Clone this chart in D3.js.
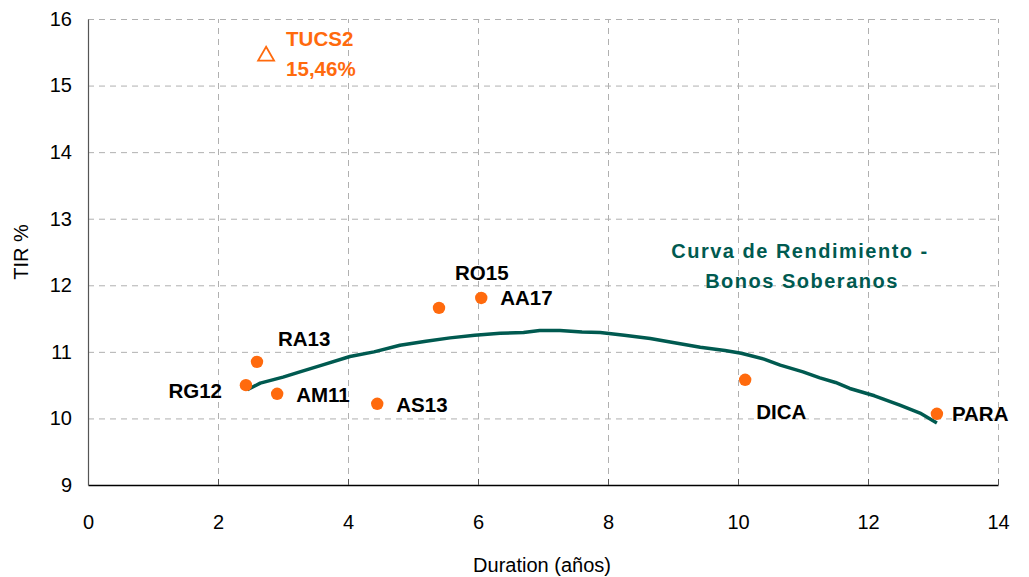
<!DOCTYPE html>
<html>
<head>
<meta charset="utf-8">
<script src="https://cdn.jsdelivr.net/npm/d3@7"></script>
<style>
  html, body { margin: 0; padding: 0; background: #fff; }
  svg { display: block; font-family: "Liberation Sans", Arial, Helvetica, sans-serif; }
  .grid line { stroke: #b0b0b0; stroke-dasharray: 6,5; stroke-width: 1; }
  .grid path { display: none; }
  .tick text { font-size: 20px; fill: #000; }
  .lbl { font-size: 20.5px; font-weight: bold; fill: #000; }
</style>
</head>
<body>
<div id="chart"></div>
<script>
// bonos: duración (años) y TIR %
const bonds     = ["RG12", "RA13", "AM11", "AS13", "RO15", "AA17", "DICA", "PARA"];
const durations = [2.43, 2.60, 2.91, 4.45, 5.40, 6.05, 10.11, 13.06];
const yields    = [10.50, 10.85, 10.37, 10.22, 11.66, 11.81, 10.58, 10.07];

// bono destacado (triángulo)
const outlierName = "TUCS2";
const outlierDur  = 2.74;
const outlierTir  = 15.46;

// curva de rendimiento ajustada
const curveDur = [2.45, 2.65, 3.00, 3.26, 3.60, 4.03, 4.40, 4.80, 5.20, 5.57, 5.95, 6.34, 6.70, 6.95, 7.26, 7.60, 7.88, 8.25, 8.65, 9.00, 9.42, 9.80, 10.05, 10.40, 10.65, 11.00, 11.26, 11.50, 11.72, 12.10, 12.49, 12.80, 13.06];
const curveTir = [10.43, 10.53, 10.62, 10.70, 10.80, 10.93, 11.00, 11.10, 11.16, 11.21, 11.25, 11.28, 11.29, 11.32, 11.32, 11.30, 11.29, 11.25, 11.20, 11.14, 11.07, 11.02, 10.98, 10.89, 10.80, 10.70, 10.61, 10.54, 10.45, 10.34, 10.20, 10.08, 9.93];

const xTicks = [0, 2, 4, 6, 8, 10, 12, 14];
const yTicks = [9, 10, 11, 12, 13, 14, 15, 16];

const W = 1029, H = 577;
const m = { t: 19, r: 31, b: 92, l: 88 };
const svg = d3.select("#chart").append("svg").attr("width", W).attr("height", H);

const x = d3.scaleLinear().domain([0, 14]).range([m.l, W - m.r]);
const y = d3.scaleLinear().domain([9, 16]).range([H - m.b, m.t]);

// grid punteada
svg.append("g").attr("class", "grid")
  .attr("transform", `translate(0,${H - m.b})`)
  .call(d3.axisBottom(x).tickValues(xTicks.slice(1)).tickSize(-(H - m.t - m.b)).tickFormat(""));
svg.append("g").attr("class", "grid")
  .attr("transform", `translate(${m.l},0)`)
  .call(d3.axisLeft(y).tickValues(yTicks.slice(1)).tickSize(-(W - m.l - m.r)).tickFormat(""));

// ejes
const ax = svg.append("g").attr("transform", `translate(0,${H - m.b})`)
  .call(d3.axisBottom(x).tickValues(xTicks).tickFormat(d3.format("d"))
    .tickSizeInner(-6).tickSizeOuter(0).tickPadding(30));
ax.select(".domain").attr("stroke", "#000").attr("stroke-width", 1.5);
ax.selectAll(".tick line").attr("stroke", "#555");
const ay = svg.append("g").attr("transform", `translate(${m.l},0)`)
  .call(d3.axisLeft(y).tickValues(yTicks).tickFormat(d3.format("d")).tickSize(0).tickPadding(16));
ay.select(".domain").attr("stroke", "#555").attr("stroke-width", 1.2);

// títulos de ejes
svg.append("text").attr("x", 542).attr("y", 572)
  .attr("text-anchor", "middle").style("font-size", "20px").text("Duration (años)");
svg.append("text").attr("transform", `translate(28,${(m.t + H - m.b) / 2})`+" rotate(-90)")
  .attr("text-anchor", "middle").style("font-size", "20px").text("TIR %");

// curva
svg.append("path")
  .datum(curveDur.map((d, i) => [d, curveTir[i]]))
  .attr("fill", "none").attr("stroke", "#005a50").attr("stroke-width", 3.5)
  .attr("stroke-linejoin", "round")
  .attr("d", d3.line().x(d => x(d[0])).y(d => y(d[1])));

svg.append("text").attr("x", 800).attr("y", 258).attr("text-anchor", "middle")
  .attr("class", "lbl").style("fill", "#005a50").style("letter-spacing", "1.5px")
  .style("font-size", "20px").text("Curva de Rendimiento -");
svg.append("text").attr("x", 802).attr("y", 288).attr("text-anchor", "middle")
  .attr("class", "lbl").style("fill", "#005a50").style("letter-spacing", "1.5px")
  .style("font-size", "20px").text("Bonos Soberanos");

// puntos
const pts = bonds.map((b, i) => ({ name: b, d: durations[i], t: yields[i] }));
svg.append("g").selectAll("circle").data(pts).join("circle")
  .attr("cx", d => x(d.d)).attr("cy", d => y(d.t)).attr("r", 6.2)
  .attr("fill", "#ff6a0d");

// etiquetas (desplazamiento en px desde el punto)
const off = {
  RG12: [-24, 13, "end"], RA13: [21, -16, "start"], AM11: [19, 8, "start"],
  AS13: [19, 8, "start"], RO15: [16, -28, "start"], AA17: [19, 7, "start"],
  DICA: [11, 39, "start"], PARA: [15, 7, "start"]
};
svg.append("g").selectAll("text").data(pts).join("text")
  .attr("class", "lbl")
  .attr("x", d => x(d.d) + off[d.name][0])
  .attr("y", d => y(d.t) + off[d.name][1])
  .attr("text-anchor", d => off[d.name][2])
  .text(d => d.name);

// TUCS2
svg.append("path")
  .attr("transform", `translate(${x(outlierDur)},${y(outlierTir) + 1})`)
  .attr("d", d3.symbol().type(d3.symbolTriangle).size(110))
  .attr("fill", "none").attr("stroke", "#ff6a0d").attr("stroke-width", 1.8);
svg.append("text").attr("class", "lbl").style("fill", "#ff6a0d")
  .attr("x", x(outlierDur) + 20).attr("y", 46).text(outlierName);
svg.append("text").attr("class", "lbl").style("fill", "#ff6a0d")
  .attr("x", x(outlierDur) + 20).attr("y", 76)
  .text(outlierTir.toFixed(2).replace(".", ",") + "%");
</script>
</body>
</html>
